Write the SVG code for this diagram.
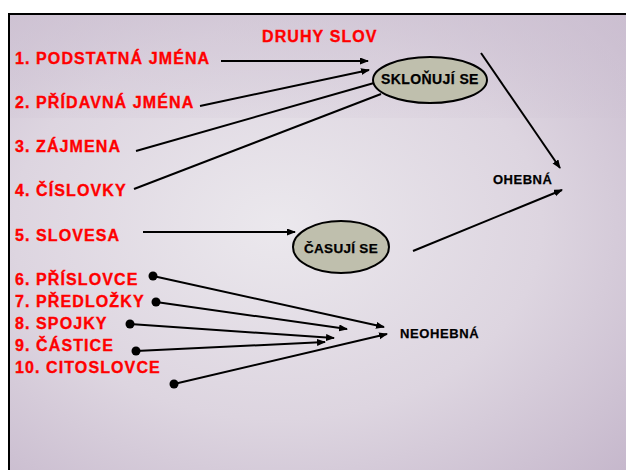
<svg xmlns="http://www.w3.org/2000/svg" width="626" height="470" viewBox="0 0 626 470">
  <defs>
    <radialGradient id="bg" cx="0.42" cy="0.45" r="0.75">
      <stop offset="0" stop-color="#ebe8ed"/>
      <stop offset="0.55" stop-color="#ddd5e0"/>
      <stop offset="1" stop-color="#c6b8cc"/>
    </radialGradient>
    <linearGradient id="band" x1="0" y1="0" x2="0" y2="1">
      <stop offset="0" stop-color="#cdc1d2" stop-opacity="0.55"/>
      <stop offset="1" stop-color="#cdc1d2" stop-opacity="0.15"/>
    </linearGradient>
    <marker id="arr" markerWidth="10" markerHeight="8" refX="8" refY="3.5" orient="auto" markerUnits="userSpaceOnUse">
      <path d="M0,0 L9,3.5 L0,7 z" fill="#000"/>
    </marker>
  </defs>
  <style>
    .red { font-family: "Liberation Sans", Arial, sans-serif; font-weight: bold; font-size: 16px; letter-spacing: 1.1px; fill: #ff0000; stroke: #ff0000; stroke-width: 0.35; }
    .blk { font-family: "Liberation Sans", Arial, sans-serif; font-weight: bold; fill: #000; stroke: #000; stroke-width: 0.25; }
    .ell { fill: #bfbfad; stroke: #000; stroke-width: 2; }
    .ln { stroke: #000; stroke-width: 2; fill: none; }
    .ar { stroke: #000; stroke-width: 2; fill: none; marker-end: url(#arr); }
  </style>
  <rect x="0" y="0" width="626" height="470" fill="#ffffff"/>
  <rect x="9" y="14" width="640" height="470" fill="url(#bg)"/>
  <rect x="10" y="15" width="616" height="103" fill="url(#band)"/>
  <rect x="9" y="14" width="640" height="470" fill="none" stroke="#000" stroke-width="2"/>

  <g id="title"><text class="red" x="262" y="42" letter-spacing="0.7">DRUHY SLOV</text></g>

  <g id="n1"><text class="red" x="15" y="64">1. PODSTATNÁ JMÉNA</text></g>
  <g id="n2"><text class="red" x="15" y="108">2. PŘÍDAVNÁ JMÉNA</text></g>
  <g id="n3"><text class="red" x="15" y="152">3. ZÁJMENA</text></g>
  <g id="n4"><text class="red" x="15" y="196">4. ČÍSLOVKY</text></g>
  <g id="n5"><text class="red" x="15" y="241">5. SLOVESA</text></g>
  <g id="n6"><text class="red" x="15" y="285">6. PŘÍSLOVCE</text></g>
  <g id="n7"><text class="red" x="15" y="307">7. PŘEDLOŽKY</text></g>
  <g id="n8"><text class="red" x="15" y="329">8. SPOJKY</text></g>
  <g id="n9"><text class="red" x="15" y="351">9. ČÁSTICE</text></g>
  <g id="n10"><text class="red" x="15" y="373">10. CITOSLOVCE</text></g>

  <g id="sklonuji">
    <ellipse class="ell" cx="430" cy="80" rx="57" ry="23"/>
    <text class="blk" x="430" y="84" font-size="14" letter-spacing="0.4" text-anchor="middle">SKLOŇUJÍ SE</text>
  </g>
  <g id="casuji">
    <ellipse class="ell" cx="341" cy="247" rx="48" ry="26"/>
    <text class="blk" x="341" y="253" font-size="13.5" letter-spacing="0.3" text-anchor="middle">ČASUJÍ SE</text>
  </g>
  <g id="ohebna"><text class="blk" x="493" y="184" font-size="13" letter-spacing="0.5">OHEBNÁ</text></g>
  <g id="neohebna"><text class="blk" x="400" y="338" font-size="13" letter-spacing="0.6">NEOHEBNÁ</text></g>

  <g id="connectors">
    <line class="ar" x1="221" y1="61" x2="368" y2="61"/>
    <line class="ar" x1="200" y1="106" x2="369" y2="70"/>
    <line class="ln" x1="136" y1="151" x2="374" y2="83"/>
    <line class="ln" x1="134" y1="189" x2="381" y2="94"/>
    <line class="ar" x1="481" y1="53" x2="560" y2="168"/>
    <line class="ar" x1="413" y1="251" x2="562" y2="190"/>
    <line class="ar" x1="143" y1="232" x2="295" y2="232"/>
    <line class="ar" x1="153" y1="276" x2="384" y2="327"/>
    <line class="ar" x1="156" y1="302" x2="347" y2="329"/>
    <line class="ar" x1="130" y1="324" x2="334" y2="338"/>
    <line class="ar" x1="136" y1="351" x2="325" y2="342"/>
    <line class="ar" x1="174" y1="384" x2="387" y2="334"/>
    <circle cx="153" cy="276" r="4.5" fill="#000"/>
    <circle cx="156" cy="302" r="4.5" fill="#000"/>
    <circle cx="130" cy="324" r="4.5" fill="#000"/>
    <circle cx="136" cy="351" r="4.5" fill="#000"/>
    <circle cx="174" cy="384" r="4.5" fill="#000"/>
  </g>
</svg>
